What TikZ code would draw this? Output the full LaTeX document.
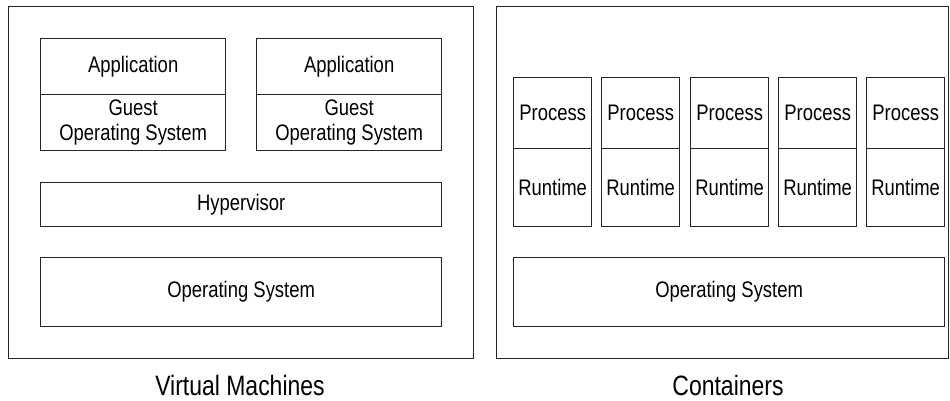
\documentclass[tikz,border=0pt]{standalone}
\usepackage{fontspec}
\setmainfont[FakeStretch=0.82]{Liberation Sans}
\begin{document}
\begin{tikzpicture}[x=1pt,y=-1pt,
  frame/.style={draw=black!85, line width=1.3pt, inner sep=0pt, anchor=north west},
  layer/.style={draw=black!85, line width=1.3pt, inner sep=0pt, anchor=north west,
    font=\fontsize{22.5}{25}\selectfont, align=center},
  caption/.style={font=\fontsize{28}{30}\selectfont}]
\useasboundingbox (0,0) rectangle (950,400);

% Virtual machines side
\node[frame, minimum width=465, minimum height=352] (vmframe) at (8,6) {};
\node[layer, minimum width=185, minimum height=56] (app1) at (40,38) {Application};
\node[layer, minimum width=185, minimum height=56] (gos1) at (40,94) {Guest\\Operating System};
\node[layer, minimum width=185, minimum height=56] (app2) at (256,38) {Application};
\node[layer, minimum width=185, minimum height=56] (gos2) at (256,94) {Guest\\Operating System};
\node[layer, minimum width=401, minimum height=44] (hyp) at (40,182) {Hypervisor};
\node[layer, minimum width=401, minimum height=69] (vmos) at (40,257) {Operating System};
\node[caption] (vmlabel) at (240,385) {Virtual Machines};

% Containers side
\node[frame, minimum width=452, minimum height=352] (ctframe) at (496,6) {};
\foreach \x [count=\i] in {513,601,690,778,866} {
  \node[layer, minimum width=78, minimum height=71] (proc\i) at (\x,77) {Process};
  \node[layer, minimum width=78, minimum height=78] (rt\i) at (\x,148) {Runtime};
}
\node[layer, minimum width=431, minimum height=69] (ctos) at (513,257) {Operating System};
\node[caption] (ctlabel) at (728,385) {Containers};
\end{tikzpicture}
\end{document}
